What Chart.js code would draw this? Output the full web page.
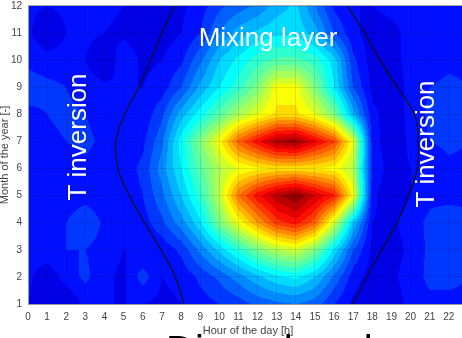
<!DOCTYPE html>
<html>
<head>
<meta charset="utf-8">
<script src="https://cdn.jsdelivr.net/npm/chart.js@4.4.1/dist/chart.umd.min.js"></script>
<style>
  html, body { margin:0; padding:0; background:#fff; overflow:hidden; width:462px; height:338px; }
  #wrap { position:relative; width:470px; height:338px; }
</style>
</head>
<body>
<div id="wrap"><canvas id="c" width="470" height="338"></canvas></div>
<script>
// axes
const hours  = [0,1,2,3,4,5,6,7,8,9,10,11,12,13,14,15,16,17,18,19,20,21,22,23];
const months = [1,2,3,4,5,6,7,8,9,10,11,12];

// normalised intensity per month, one value per hour (0..23)
const jan = [0.12,0.08,0.08,0.13,0.12,0.12,0.12,0.11,0.12,0.14,0.16,0.18,0.21,0.23,0.24,0.22,0.16,0.11,0.09,0.10,0.13,0.15,0.15,0.15];
const feb = [0.13,0.09,0.14,0.17,0.13,0.11,0.18,0.12,0.13,0.17,0.21,0.26,0.31,0.35,0.37,0.32,0.23,0.14,0.10,0.11,0.14,0.17,0.17,0.16];
const mar = [0.14,0.15,0.16,0.16,0.14,0.12,0.12,0.13,0.17,0.25,0.33,0.41,0.49,0.55,0.58,0.50,0.35,0.20,0.11,0.10,0.13,0.17,0.18,0.17];
const apr = [0.14,0.14,0.16,0.20,0.15,0.12,0.14,0.19,0.26,0.35,0.49,0.61,0.72,0.82,0.86,0.78,0.58,0.32,0.12,0.11,0.14,0.17,0.18,0.17];
const may = [0.14,0.14,0.13,0.14,0.13,0.13,0.16,0.23,0.32,0.42,0.56,0.76,0.87,0.95,1.00,0.92,0.85,0.62,0.13,0.09,0.12,0.15,0.15,0.15];
const jun = [0.13,0.13,0.14,0.15,0.14,0.14,0.17,0.26,0.36,0.46,0.55,0.60,0.63,0.65,0.65,0.64,0.62,0.55,0.15,0.10,0.12,0.13,0.15,0.15];
const jul = [0.14,0.15,0.16,0.17,0.15,0.13,0.15,0.23,0.38,0.50,0.62,0.78,0.87,0.96,0.98,0.89,0.81,0.60,0.14,0.09,0.13,0.16,0.17,0.16];
const aug = [0.15,0.16,0.17,0.16,0.14,0.12,0.13,0.19,0.30,0.38,0.46,0.54,0.60,0.65,0.65,0.60,0.50,0.30,0.13,0.10,0.13,0.17,0.18,0.17];
const sep = [0.18,0.17,0.16,0.14,0.13,0.12,0.12,0.14,0.20,0.29,0.36,0.42,0.50,0.62,0.62,0.50,0.36,0.20,0.11,0.10,0.13,0.16,0.17,0.16];
const oct = [0.15,0.14,0.14,0.12,0.08,0.15,0.11,0.12,0.15,0.23,0.32,0.37,0.42,0.45,0.45,0.42,0.34,0.17,0.10,0.11,0.13,0.14,0.15,0.15];
const nov = [0.13,0.08,0.12,0.13,0.12,0.11,0.10,0.10,0.12,0.16,0.24,0.30,0.33,0.35,0.35,0.30,0.20,0.13,0.10,0.11,0.13,0.14,0.14,0.14];
const dec = [0.13,0.12,0.13,0.13,0.13,0.12,0.10,0.09,0.11,0.14,0.19,0.22,0.25,0.30,0.33,0.24,0.15,0.12,0.12,0.13,0.13,0.14,0.14,0.14];
const grid = [jan, feb, mar, apr, may, jun, jul, aug, sep, oct, nov, dec];

// sunrise / sunset hour for each month
const sunriseHour = [8.15, 7.7, 6.95, 6.1, 5.3, 4.7, 4.6, 5.05, 5.8, 6.4, 7.0, 7.65];
const sunsetHour  = [17.0, 17.7, 18.5, 19.3, 19.9, 20.35, 20.4, 20.2, 19.3, 18.4, 17.6, 16.7];

const nLevels = 25;
const FONT = '"Liberation Sans", Arial, sans-serif';

function jet(v) {
  const c = x => Math.max(0, Math.min(1, x));
  return [
    c(Math.min(4*v - 1.5, -4*v + 4.5)) * 255,
    c(Math.min(4*v - 0.5, -4*v + 3.5)) * 255,
    c(Math.min(4*v + 0.5, -4*v + 2.5)) * 255
  ];
}

function sample(h, m) {
  let i = Math.floor(h), j = Math.floor(m - 1);
  i = Math.max(0, Math.min(hours.length - 2, i));
  j = Math.max(0, Math.min(months.length - 2, j));
  const fx = h - hours[i], fy = m - months[j];
  const a = grid[j][i], b = grid[j][i+1], c = grid[j+1][i], d = grid[j+1][i+1];
  return a*(1-fx)*(1-fy) + b*fx*(1-fy) + c*(1-fx)*fy + d*fx*fy;
}

// filled contour drawn under the grid
const contourPlugin = {
  id: 'contour',
  beforeDraw(chart) {
    const {ctx, chartArea: a, scales: {x, y}} = chart;
    const L = Math.round(a.left), T = Math.round(a.top);
    const W = Math.round(a.right) - L, H = Math.round(a.bottom) - T;
    const img = ctx.createImageData(W, H);
    for (let py = 0; py < H; py++) {
      const m = y.getValueForPixel(T + py + 0.5);
      for (let px = 0; px < W; px++) {
        const h = x.getValueForPixel(L + px + 0.5);
        let k = Math.floor(sample(h, m) * nLevels);
        k = Math.max(0, Math.min(nLevels - 1, k));
        const col = jet((k + 0.5) / nLevels);
        const o = (py * W + px) * 4;
        img.data[o] = col[0]; img.data[o+1] = col[1]; img.data[o+2] = col[2]; img.data[o+3] = 255;
      }
    }
    ctx.putImageData(img, L, T);
  }
};

const textPlugin = {
  id: 'labels',
  afterDraw(chart) {
    const ctx = chart.ctx, a = chart.chartArea;
    ctx.save();
    // box top edge
    ctx.strokeStyle = '#aaa'; ctx.lineWidth = 1;
    ctx.beginPath(); ctx.moveTo(a.left, a.top - 0.5); ctx.lineTo(a.right, a.top - 0.5); ctx.stroke();

    ctx.fillStyle = '#fff';
    ctx.font = '26px ' + FONT;
    ctx.textAlign = 'center';
    ctx.textBaseline = 'alphabetic';
    ctx.fillText('Mixing layer', 268, 46);

    ctx.save(); ctx.translate(86, 137); ctx.rotate(-Math.PI/2);
    ctx.fillText('T inversion', 0, 0); ctx.restore();
    ctx.save(); ctx.translate(434, 144); ctx.rotate(-Math.PI/2);
    ctx.fillText('T inversion', 0, 0); ctx.restore();

    ctx.fillStyle = '#444';
    ctx.font = '11px ' + FONT;
    ctx.textBaseline = 'middle';
    ctx.fillText('Hour of the day [h]', 248, 331);
    ctx.textBaseline = 'alphabetic';
    ctx.save(); ctx.translate(8, 155); ctx.rotate(-Math.PI/2);
    ctx.fillText('Month of the year [-]', 0, 0); ctx.restore();

    ctx.fillStyle = '#000';
    ctx.textAlign = 'left';
    ctx.font = '40px ' + FONT;
    ctx.fillText('Diurnal cycle', 166, 364);
    ctx.restore();
  }
};

function fixBox(w, h) {
  return s => {
    if (w) s.width = w;
    if (h) s.height = h;
    s.paddingTop = 0; s.paddingBottom = 0; s.paddingLeft = 0; s.paddingRight = 0;
  };
}

new Chart(document.getElementById('c'), {
  type: 'scatter',
  data: {
    datasets: [
      { data: months.map((m, i) => ({x: sunriseHour[i], y: m})) },
      { data: months.map((m, i) => ({x: sunsetHour[i], y: m})) }
    ].map(d => Object.assign(d, {
      showLine: true, borderColor: '#111', borderWidth: 1.2,
      pointRadius: 0, tension: 0.4, fill: false
    }))
  },
  options: {
    responsive: false,
    animation: false,
    layout: { padding: { top: 6, right: 2, left: 0, bottom: 0 } },
    plugins: { legend: { display: false }, tooltip: { enabled: false } },
    scales: {
      x: {
        type: 'linear', min: 0, max: 23,
        afterFit: fixBox(0, 34),
        border: { display: true, color: '#999' },
        grid: { color: 'rgba(0,0,0,0.1)', drawTicks: false },
        ticks: { stepSize: 1, autoSkip: false, maxRotation: 0, padding: 7,
                 color: '#444', font: { size: 10, family: FONT } }
      },
      y: {
        type: 'linear', min: 1, max: 12,
        afterFit: fixBox(28, 0),
        border: { display: true, color: '#999' },
        grid: { color: 'rgba(0,0,0,0.1)', drawTicks: false },
        ticks: { stepSize: 1, autoSkip: false, padding: 6,
                 color: '#444', font: { size: 10, family: FONT } }
      }
    }
  },
  plugins: [contourPlugin, textPlugin]
});
</script>
</body>
</html>
